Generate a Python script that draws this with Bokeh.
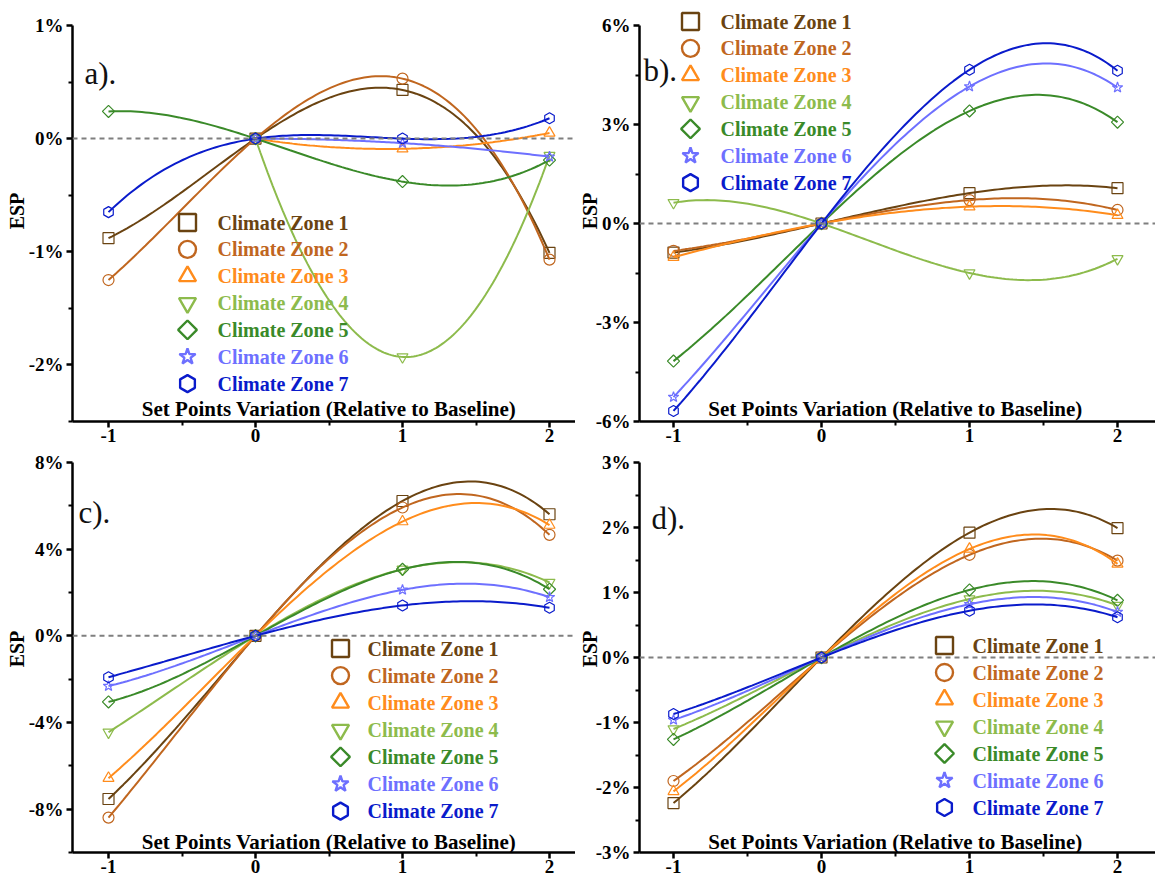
import numpy as np
from bokeh.plotting import figure
from bokeh.models import FixedTicker, Span, Label, Range1d
from bokeh.layouts import column, row
from bokeh.embed import file_html
from bokeh.resources import INLINE
from bokeh.core.properties import value

# ---------------- data (ESP in %) ----------------
x_levels = [-1, 0, 1, 2]
x_tick_labels = ["-1", "0", "1", "2"]
zones = ["Climate Zone 1", "Climate Zone 2", "Climate Zone 3", "Climate Zone 4",
         "Climate Zone 5", "Climate Zone 6", "Climate Zone 7"]
nan = float("nan")

esp_a_z1 = [-0.88, 0.0, 0.43, -1.01]
esp_a_z2 = [-1.25, 0.0, 0.53, -1.07]
esp_a_z3 = [nan, 0.0, -0.09, 0.05]
esp_a_z4 = [nan, 0.0, -1.93, -0.15]
esp_a_z5 = [0.24, 0.0, -0.38, -0.19]
esp_a_z6 = [nan, 0.0, -0.04, -0.16]
esp_a_z7 = [-0.65, 0.0, 0.00, 0.18]

esp_b_z1 = [-0.88, 0.0, 0.92, 1.07]
esp_b_z2 = [-0.83, 0.0, 0.71, 0.41]
esp_b_z3 = [-1.02, 0.0, 0.51, 0.25]
esp_b_z4 = [0.63, 0.0, -1.50, -1.07]
esp_b_z5 = [-4.17, 0.0, 3.41, 3.07]
esp_b_z6 = [-5.26, 0.0, 4.15, 4.12]
esp_b_z7 = [-5.68, 0.0, 4.66, 4.63]

esp_c_z1 = [-7.53, 0.0, 6.22, 5.61]
esp_c_z2 = [-8.39, 0.0, 5.92, 4.66]
esp_c_z3 = [-6.57, 0.0, 5.27, 5.11]
esp_c_z4 = [-4.45, 0.0, 3.07, 2.46]
esp_c_z5 = [-3.05, 0.0, 3.07, 2.15]
esp_c_z6 = [-2.32, 0.0, 2.12, 1.78]
esp_c_z7 = [-1.91, 0.0, 1.40, 1.29]

esp_d_z1 = [-2.24, 0.0, 1.92, 1.99]
esp_d_z2 = [-1.90, 0.0, 1.58, 1.49]
esp_d_z3 = [-2.06, 0.0, 1.67, 1.44]
esp_d_z4 = [-1.10, 0.0, 0.90, 0.80]
esp_d_z5 = [-1.26, 0.0, 1.04, 0.88]
esp_d_z6 = [-0.96, 0.0, 0.82, 0.70]
esp_d_z7 = [-0.87, 0.0, 0.72, 0.62]

yticks_a = [-2, -1, 0, 1]
yticks_b = [-6, -3, 0, 3, 6]
yticks_c = [-8, -4, 0, 4, 8]
yticks_d = [-3, -2, -1, 0, 1, 2, 3]

# ---------------- styling ----------------
colors = ["#6A4311", "#C0661F", "#FF8C1C", "#8DBB4C", "#3A8A29", "#6E70FF", "#0A1BCB"]
markers = ["square", "circle", "triangle", "inverted_triangle", "square", "star", "hex"]
angles = [0, 0, 0, 0, np.pi / 4, 0, np.pi / 6]
size_scale = [1, 1, 1, 1, 0.78, 1, 1]
SERIF = "Liberation Serif"


def smooth(xs, ys, n=120):
    xs = np.asarray(xs, float)
    ys = np.asarray(ys, float)
    m = ~np.isnan(ys)
    xs, ys = xs[m], ys[m]
    coef = np.polyfit(xs, ys, len(xs) - 1)
    xx = np.linspace(xs.min(), xs.max(), n)
    return xx, np.polyval(coef, xx)


def make_panel(tag, series, yticks, yminor, geo, legend_px, tag_px, title_py, ylo, label_standoff):
    x0, sx, y0, sy, left, right, top, bottom, fl, fr, ft, fb = geo

    def dx(px):
        return (px - x0) / sx

    def dy(py):
        return (y0 - py) / sy

    p = figure(frame_width=right - left, frame_height=bottom - top,
               min_border_left=left - fl, min_border_right=fr - right,
               min_border_top=top - ft, min_border_bottom=fb - bottom,
               x_range=Range1d(dx(left), dx(right)), y_range=Range1d(dy(bottom), dy(top)),
               output_backend="svg", toolbar_location=None)
    p.outline_line_color = None
    p.xgrid.visible = False
    p.ygrid.visible = False
    p.background_fill_color = "white"
    p.border_fill_color = None

    # zero reference line
    p.add_layout(Span(location=0, dimension="width", line_color="#7F7F7F",
                      line_dash="5 4", line_width=2))

    for i, ys in enumerate(series):
        xx, yy = smooth(x_levels, ys)
        p.line(xx, yy, line_color=colors[i], line_width=2)
        xs = [x for x, y in zip(x_levels, ys) if not np.isnan(y)]
        yv = [y for y in ys if not np.isnan(y)]
        p.scatter(xs, yv, marker=markers[i], size=11 * size_scale[i], angle=angles[i],
                  line_color=colors[i], fill_color=None, line_width=1.2)

    # legend (manual so each label takes its series colour)
    mx, tx, ry, step = legend_px
    for i, z in enumerate(zones):
        py = ry + step * i
        p.scatter([dx(mx)], [dy(py)], marker=markers[i], size=17 * size_scale[i], angle=angles[i],
                  line_color=colors[i], fill_color=None, line_width=2.4)
    p.text([dx(tx)] * 7, [dy(ry + step * i) for i in range(7)], text=zones,
           text_color=colors, text_font=value(SERIF), text_font_style="bold",
           text_font_size="20px", text_baseline="middle", text_align="left")

    # panel tag
    p.add_layout(Label(x=dx(tag_px[0]), y=dy(tag_px[1]), text=tag, text_font=SERIF,
                       text_font_size="31px", text_baseline="middle", text_align="left",
                       text_color="#111111"))
    # x-axis title (drawn inside frame as in original)
    p.add_layout(Label(x=0.5, y=dy(title_py), text="Set Points Variation (Relative to Baseline)",
                       text_font=SERIF, text_font_style="bold", text_font_size="21px",
                       text_baseline="middle", text_align="center", text_color="black"))

    p.xaxis.ticker = FixedTicker(ticks=x_levels, minor_ticks=[-0.5, 0.5, 1.5])
    p.xaxis.major_label_overrides = {x: l for x, l in zip(x_levels, x_tick_labels)}
    p.yaxis.ticker = FixedTicker(ticks=yticks, minor_ticks=yminor)
    p.yaxis.major_label_overrides = {t: f"{t}%" for t in yticks}
    p.yaxis.bounds = (ylo, max(yticks))
    p.yaxis.axis_label = "ESP"
    p.yaxis.axis_label_text_font = SERIF
    p.yaxis.axis_label_text_font_style = "bold"
    p.yaxis.axis_label_text_font_size = "20px"
    p.yaxis.axis_label_text_color = "black"
    p.yaxis.axis_label_standoff = label_standoff
    for ax in (p.xaxis[0], p.yaxis[0]):
        ax.axis_line_width = 2.5
        ax.axis_line_color = "black"
        ax.major_tick_line_width = 2.5
        ax.minor_tick_line_width = 2
        ax.major_tick_out = 6
        ax.major_tick_in = 0
        ax.minor_tick_out = 4
        ax.minor_tick_in = 0
        ax.major_label_text_font = SERIF
        ax.major_label_text_font_style = "bold"
        ax.major_label_text_font_size = "19px"
        ax.major_label_text_color = "black"
        ax.major_label_standoff = 3
    p.xaxis.major_label_standoff = 1
    return p


# geometry: x0px, sx, y0px, sy, frame left, right, top, bottom, fig left, right, top, bottom
geo_a = (255, 147, 138.1, 113.14, 72, 575, 0, 421, 0, 575, 0, 445)
geo_b = (821, 148, 223, 33.0, 639, 1155, 0, 421, 575, 1155, 0, 445)
geo_c = (255, 147, 635.3, 21.67, 72, 575, 445, 852, 0, 575, 445, 877)
geo_d = (821, 148, 657.0, 65.0, 639, 1155, 445, 852, 575, 1155, 445, 877)

pa = make_panel("a).", [esp_a_z1, esp_a_z2, esp_a_z3, esp_a_z4, esp_a_z5, esp_a_z6, esp_a_z7],
                yticks_a, [-2.5, -1.5, -0.5, 0.5], geo_a, (187, 217, 222, 26.85), (84, 73), 408, -2.5, -2)
pb = make_panel("b).", [esp_b_z1, esp_b_z2, esp_b_z3, esp_b_z4, esp_b_z5, esp_b_z6, esp_b_z7],
                yticks_b, [-4.5, -1.5, 1.5, 4.5], geo_b, (690, 720, 21, 26.85), (643, 70), 408, -6, -8)
pc = make_panel("c).", [esp_c_z1, esp_c_z2, esp_c_z3, esp_c_z4, esp_c_z5, esp_c_z6, esp_c_z7],
                yticks_c, [-10, -6, -2, 2, 6], geo_c, (340, 367, 648, 27.1), (78, 512), 841, -10, -2)
pd_ = make_panel("d).", [esp_d_z1, esp_d_z2, esp_d_z3, esp_d_z4, esp_d_z5, esp_d_z6, esp_d_z7],
                 yticks_d, [-2.5, -1.5, -0.5, 0.5, 1.5, 2.5], geo_d, (944, 972, 645, 27.0), (651, 518), 841, -3, -8)

layout = column(row(pa, pb, spacing=0), row(pc, pd_, spacing=0), spacing=0)
open("out.html", "w").write(file_html(layout, INLINE))
